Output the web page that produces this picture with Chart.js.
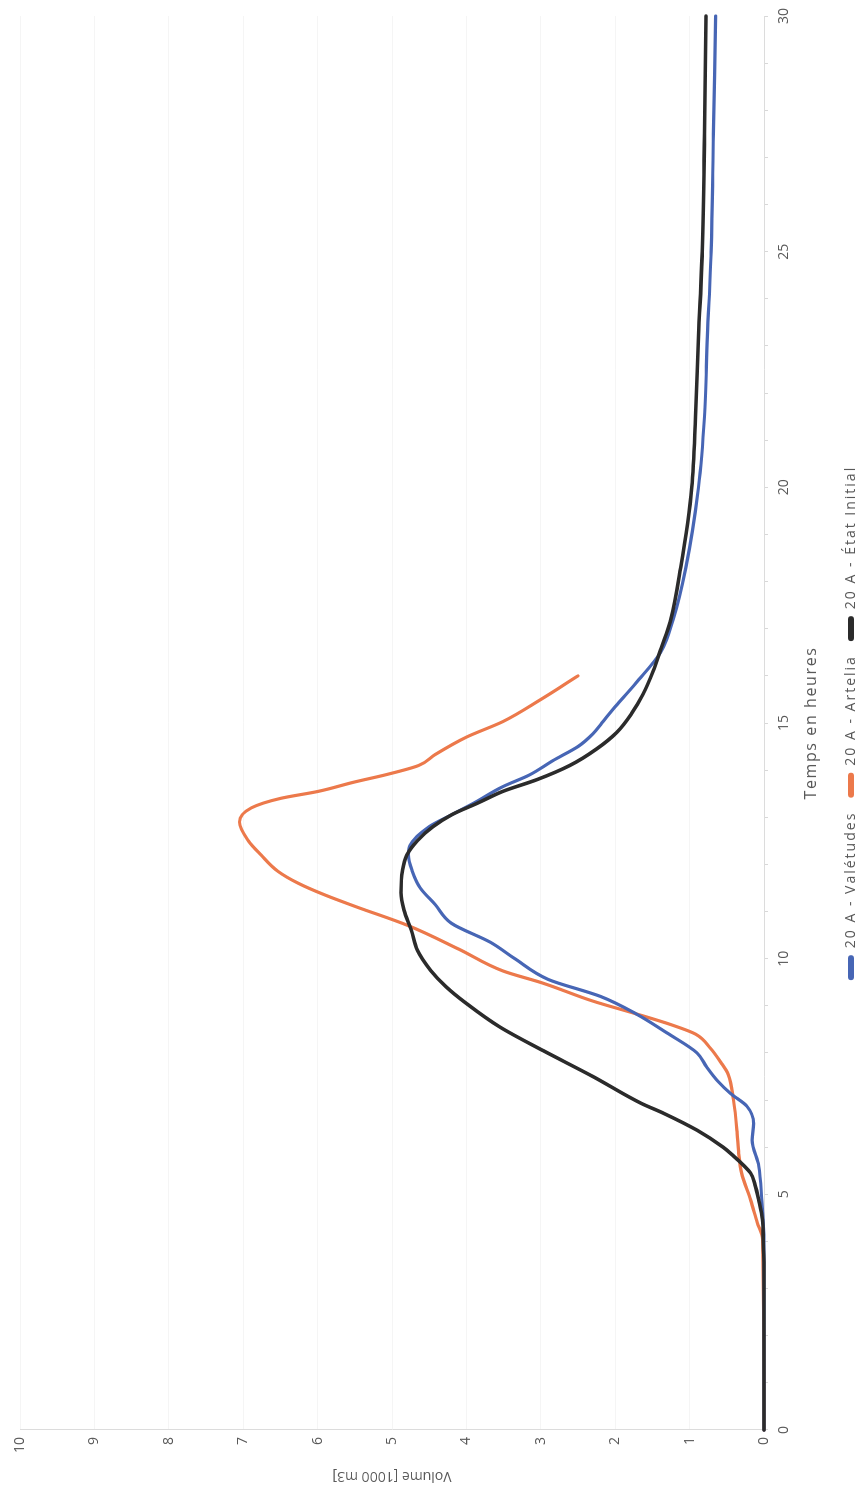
<!DOCTYPE html>
<html>
<head>
<meta charset="utf-8">
<script src="https://cdn.jsdelivr.net/npm/chart.js@4.4.1/dist/chart.umd.min.js"></script>
<style>
  html, body { margin: 0; padding: 0; background: #fff; overflow: hidden; width: 862px; height: 1498px; }
  /* the chart is laid out landscape, then turned a quarter turn counter-clockwise */
  #wrap { position: absolute; left: 0; top: 0; width: 1498px; height: 862px;
          transform-origin: 0 0; transform: translateY(1498px) rotate(-90deg); background: #fff; }
</style>
</head>
<body>
<div id="wrap"><canvas id="c" width="1498" height="862"></canvas></div>
<script>
// Series labels
const seriesNames = ['20 A - Valétudes', '20 A - Artelia', '20 A - État Initial'];

// 20 A - Valétudes : time (h) / volume (1000 m3)
const timeValetudes = [0, 4.0, 4.9, 5.6, 6.15, 6.5, 6.87, 7.14, 7.4, 7.7, 8.0, 8.42, 8.83, 9.2, 9.56, 10.0, 10.35, 10.75, 11.15, 11.5, 11.87, 12.2, 12.4, 12.8, 13.06, 13.3, 13.65, 13.9, 14.2, 14.5, 14.77, 15.0, 15.4, 15.85, 16.5, 17.2, 18.3, 20, 21.5, 23.2, 25, 27.5, 30];
const volValetudes  = [0, 0, 0.03, 0.07, 0.16, 0.14, 0.23, 0.45, 0.62, 0.77, 0.9, 1.3, 1.72, 2.2, 2.9, 3.35, 3.68, 4.2, 4.42, 4.62, 4.73, 4.78, 4.76, 4.5, 4.19, 3.9, 3.51, 3.15, 2.84, 2.5, 2.3, 2.18, 1.97, 1.72, 1.39, 1.22, 1.05, 0.88, 0.8, 0.76, 0.71, 0.68, 0.65];

// 20 A - Artelia
const timeArtelia = [0, 4.05, 4.4, 4.88, 5.45, 5.87, 6.3, 7.0, 7.54, 7.8, 8.1, 8.4, 8.6, 8.83, 9.1, 9.48, 9.74, 10.2, 10.7, 11.1, 11.35, 11.6, 11.85, 12.2, 12.5, 12.9, 13.2, 13.4, 13.55, 13.75, 13.9, 14.1, 14.33, 14.7, 15.03, 15.5, 16.0];
const volArtelia  = [0, 0.02, 0.09, 0.18, 0.3, 0.34, 0.36, 0.41, 0.48, 0.58, 0.72, 0.92, 1.25, 1.72, 2.3, 2.97, 3.51, 4.1, 4.78, 5.48, 5.9, 6.26, 6.53, 6.76, 6.93, 7.05, 6.89, 6.5, 5.99, 5.5, 5.09, 4.64, 4.42, 4.0, 3.51, 3.0, 2.5];

// 20 A - État Initial
const timeEtatInitial = [0, 3.5, 4.0, 4.46, 4.88, 5.2, 5.45, 5.87, 6.0, 6.36, 6.72, 6.93, 7.5, 8.05, 8.55, 9.05, 9.4, 9.75, 10.18, 10.6, 11.03, 11.4, 11.87, 12.2, 12.5, 12.8, 13.06, 13.3, 13.55, 13.8, 14.1, 14.45, 14.8, 15.2, 15.6, 16.1, 16.6, 17.15, 18.3, 20, 21.5, 23.2, 25, 27.5, 30];
const volEtatInitial  = [0, 0, 0.01, 0.02, 0.07, 0.12, 0.18, 0.45, 0.55, 0.9, 1.35, 1.65, 2.3, 2.97, 3.55, 4.0, 4.27, 4.48, 4.66, 4.74, 4.84, 4.88, 4.86, 4.8, 4.66, 4.45, 4.19, 3.85, 3.51, 3.05, 2.61, 2.25, 1.98, 1.78, 1.63, 1.49, 1.38, 1.26, 1.12, 0.97, 0.92, 0.88, 0.83, 0.8, 0.78];

// Axis ranges and tick steps
const timeRange = [0, 30];
const volumeRange = [0, 10];
const timeLabelEvery = 5;

const seriesColors = ['#4766b5', '#ec794b', '#2b2b2b'];
const textColor = '#595959';
const fontFamily = "'Open Sans', 'Liberation Sans', sans-serif";

const toPoints = (ts, vs) => ts.map((t, i) => ({ x: t, y: vs[i] }));

// Runs a drawing/measuring method with a wider letter spacing on the canvas context
function withSpacing(obj, name, spacing) {
  const orig = obj[name];
  obj[name] = function (...args) {
    const c = this.ctx;
    const prev = c.letterSpacing;
    c.letterSpacing = spacing;
    try { return orig.apply(this, args); } finally { c.letterSpacing = prev; }
  };
}

// Loose tracking for the legend labels and the time-axis title
const looseText = {
  id: 'looseText',
  beforeLayout(chart) {
    const lg = chart.legend;
    if (lg && !lg._loose) {
      lg._loose = true;
      withSpacing(lg, 'fit', '2px');
      withSpacing(lg, 'draw', '2px');
    }
  },
  beforeDraw(chart) {
    const xs = chart.scales.x;
    if (xs && !xs._loose) {
      xs._loose = true;
      withSpacing(xs, 'drawTitle', '1.6px');
    }
  }
};

new Chart(document.getElementById('c'), {
  type: 'line',
  plugins: [looseText],
  data: {
    datasets: [
      { label: seriesNames[0], data: toPoints(timeValetudes, volValetudes),
        borderColor: seriesColors[0], backgroundColor: seriesColors[0], borderWidth: 3.2, order: 1, clip: 6 },
      { label: seriesNames[1], data: toPoints(timeArtelia, volArtelia),
        borderColor: seriesColors[1], backgroundColor: seriesColors[1], borderWidth: 3.2, order: 2, clip: 6 },
      { label: seriesNames[2], data: toPoints(timeEtatInitial, volEtatInitial),
        borderColor: seriesColors[2], backgroundColor: seriesColors[2], borderWidth: 3.6, order: 0, clip: 6 }
    ]
  },
  options: {
    responsive: false,
    animation: false,
    devicePixelRatio: 1,
    layout: { padding: { left: 0, right: 10, top: 20, bottom: -6 } },
    elements: {
      point: { radius: 0, hoverRadius: 0 },
      line: { cubicInterpolationMode: 'monotone', borderCapStyle: 'round', borderJoinStyle: 'round', fill: false }
    },
    plugins: {
      tooltip: { enabled: false },
      legend: {
        position: 'bottom',
        fullSize: false,
        labels: {
          color: textColor,
          font: { family: fontFamily, size: 14 },
          boxWidth: 25,
          boxHeight: 6,
          useBorderRadius: true,
          borderRadius: 3,
          padding: 14,
          sort: (a, b) => a.datasetIndex - b.datasetIndex,
          generateLabels: (chart) =>
            Chart.defaults.plugins.legend.labels.generateLabels(chart).map(l => ({ ...l, lineWidth: 0 }))
        }
      }
    },
    scales: {
      x: {
        type: 'linear',
        min: timeRange[0], max: timeRange[1],
        afterFit: (s) => { s.height = 66; },
        border: { color: '#dcdcdc', width: 1 },
        grid: { drawOnChartArea: false, drawTicks: true, tickLength: 4, color: '#d8d8d8' },
        ticks: {
          stepSize: 1, autoSkip: false, maxRotation: 0, padding: 8,
          color: textColor, font: { family: fontFamily, size: 14 },
          callback: (v) => (v % timeLabelEvery === 0 ? String(v) : '')
        },
        title: { display: true, text: 'Temps en heures', color: textColor,
                 font: { family: fontFamily, size: 16 }, padding: { top: 0, bottom: 9 } }
      },
      y: {
        min: volumeRange[0], max: volumeRange[1],
        afterFit: (s) => { s.width = 68; },
        border: { color: '#dcdcdc', width: 1 },
        grid: { color: '#f5f5f5', drawTicks: false },
        ticks: { stepSize: 1, padding: 7, color: textColor, font: { family: fontFamily, size: 14 } },
        title: { display: true, text: 'Volume [1000 m3]', color: textColor,
                 font: { family: fontFamily, size: 14 }, padding: { top: 14, bottom: 0 } }
      }
    }
  }
});
</script>
</body>
</html>
